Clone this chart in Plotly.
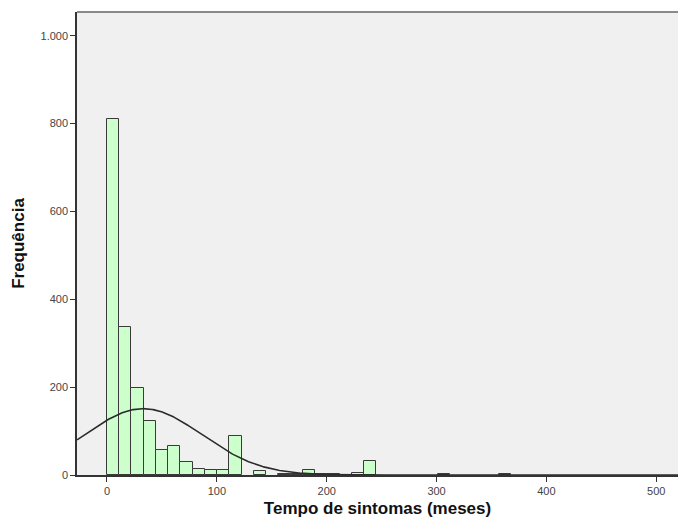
import numpy as np
import plotly.graph_objects as go

# Histogram data
bin_width = 11.15
bin_index = [0, 1, 2, 3, 4, 5, 6, 7, 8, 9, 10, 12, 14, 15, 16, 17, 18, 20, 21, 27, 32]
frequencies = [810, 337, 198, 123, 57, 66, 30, 13, 11, 11, 89, 8, 3, 3, 11, 2, 2, 4, 32, 3, 3]

# Normal curve parameters (fitted overlay)
curve_mean = 33.0
curve_sd = 53.5
curve_n = sum(frequencies)

y_tickvals = [0, 200, 400, 600, 800, 1000]
y_ticktext = ["0", "200", "400", "600", "800", "1.000"]
x_tickvals = [0, 100, 200, 300, 400, 500]

x_range = [-27.3, 519.8]
y_range = [0, 1054]

centers = [(i + 0.5) * bin_width for i in bin_index]

xs = np.linspace(x_range[0], x_range[1], 600)
ys = curve_n * bin_width / (curve_sd * np.sqrt(2 * np.pi)) * np.exp(-((xs - curve_mean) ** 2) / (2 * curve_sd ** 2))

fig = go.Figure()
fig.add_trace(go.Bar(
    x=centers, y=frequencies, width=[bin_width] * len(centers),
    marker=dict(color="#ccffcc", line=dict(color="#3a3a3a", width=1)),
    showlegend=False, hoverinfo="x+y",
))
fig.add_trace(go.Scatter(
    x=xs, y=ys, mode="lines", line=dict(color="#2b2b2b", width=1.6),
    showlegend=False, hoverinfo="skip",
))

fig.update_layout(
    width=678, height=525,
    margin=dict(l=77, r=0, t=12, b=50),
    paper_bgcolor="white", plot_bgcolor="#f0f0f0",
    bargap=0,
    font=dict(family="Liberation Sans, Arial, sans-serif", color="#333333", size=11),
    shapes=[dict(type="line", xref="paper", yref="paper", x0=0, x1=1, y0=1, y1=1,
                 line=dict(color="#8a8a8a", width=2))],
)
fig.update_xaxes(
    range=x_range, tickvals=x_tickvals, showgrid=False, zeroline=False,
    showline=True, linecolor="#333333", linewidth=1.5,
    ticks="outside", ticklen=5, tickcolor="#333333", tickwidth=1.2,
    tickfont=dict(size=11, color="#444444"),
    title=dict(text="<b>Tempo de sintomas (meses)</b>", font=dict(size=17, color="#111111"), standoff=6),
)
fig.update_yaxes(
    range=y_range, tickvals=y_tickvals, ticktext=y_ticktext, showgrid=False, zeroline=False,
    showline=True, linecolor="#333333", linewidth=1.5,
    ticks="outside", ticklen=5, tickcolor="#333333", tickwidth=1.2,
    tickfont=dict(size=11, color="#444444"),
    title=dict(text="<b>Frequência</b>", font=dict(size=17, color="#111111"), standoff=12),
)

fig.write_html("out.html")
